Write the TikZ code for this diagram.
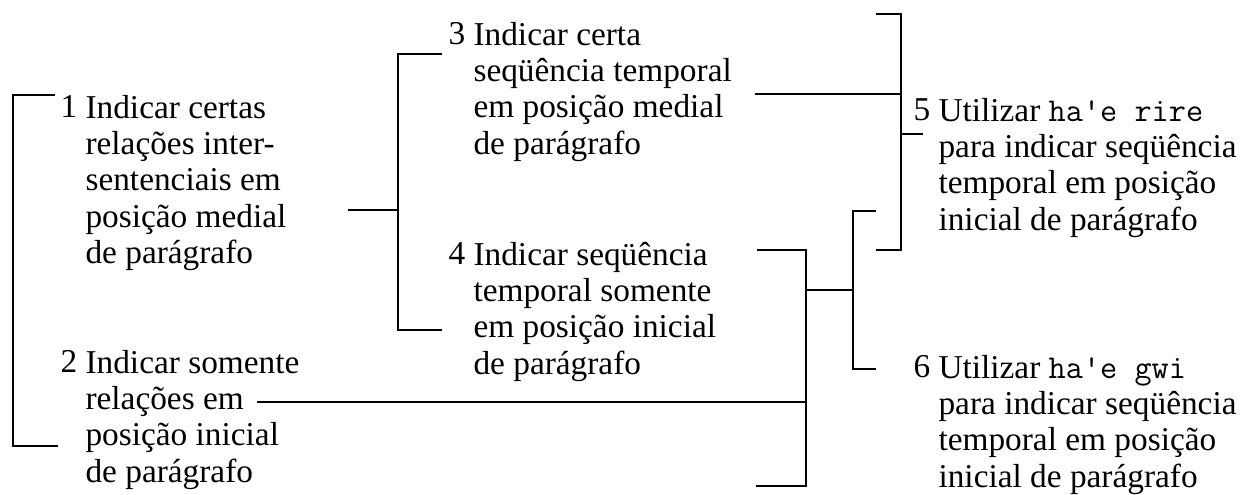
\documentclass[tikz,border=0pt]{standalone}
\usepackage{fontspec}
\setmainfont{Liberation Serif}
\usepackage{tikz}

\tikzset{
	feature/.style={anchor=base west, inner sep=0pt, align=left, font=\fontsize{12}{13.1}\selectfont},
	bar/.style={line width=0.8pt}
}

\begin{document}
\begin{tikzpicture}[x=0.36pt, y=-0.36pt]
	\useasboundingbox (0,0) rectangle (1244,495);

	% numbers sit on the first line, texts are placed by their last line
	\node[feature] (n1) at (60,118)  {1};
	\node[feature] (n2) at (60,373)  {2};
	\node[feature] (n3) at (448,45)  {3};
	\node[feature] (n4) at (448,265) {4};
	\node[feature] (n5) at (913,121) {5};
	\node[feature] (n6) at (913,378) {6};

	\node[feature] (t1) at (85,263.6)  {Indicar certas\\relações inter-\\sentenciais em\\posição medial\\de parágrafo};
	\node[feature] (t2) at (85,482.2)  {Indicar somente\\relações em\\posição inicial\\de parágrafo};
	\node[feature] (t3) at (473,154.2) {Indicar certa\\seqüência temporal\\em posição medial\\de parágrafo};
	\node[feature] (t4) at (473,374.2) {Indicar seqüência\\temporal somente\\em posição inicial\\de parágrafo};
	\node[feature] (t5) at (938,230.2) {Utilizar \texttt{ha\textquotesingle e rire}\\para indicar seqüência\\temporal em posição\\inicial de parágrafo};
	\node[feature] (t6) at (938,487.2) {Utilizar \texttt{ha\textquotesingle e gwi}\\para indicar seqüência\\temporal em posição\\inicial de parágrafo};

	\coordinate (A)    at (13,270);
	\coordinate (Atop) at (55,95);
	\coordinate (Abot) at (58,446);
	\coordinate (B)    at (398,210);
	\coordinate (Btop) at (442,54);
	\coordinate (Bbot) at (442,330);
	\coordinate (C)    at (901,134);
	\coordinate (Ctop) at (876,14);
	\coordinate (Cbot) at (876,250);
	\coordinate (D)    at (806,290);
	\coordinate (Dtop) at (757,250);
	\coordinate (Dbot) at (756,486);
	\coordinate (E)    at (853,290);
	\coordinate (Etop) at (876,211);
	\coordinate (Ebot) at (876,369);
	\coordinate (t1out) at (348,210);
	\coordinate (t2out) at (257,402);
	\coordinate (t3out) at (755,94);
	\coordinate (t5in)  at (923,134);

	\draw[bar] (Atop) -| (A) |- (Abot);
	\draw[bar] (Btop) -| (B) |- (Bbot);
	\draw[bar] (Ctop) -| (C) |- (Cbot);
	\draw[bar] (Dtop) -| (D) |- (Dbot);
	\draw[bar] (Etop) -| (E) |- (Ebot);
	\draw[bar] (t1out) -- (B);
	\draw[bar] (t2out) -- (t2out -| D);
	\draw[bar] (t3out) -- (t3out -| C);
	\draw[bar] (C) -- (t5in);
	\draw[bar] (D) -- (E);

\end{tikzpicture}
\end{document}
